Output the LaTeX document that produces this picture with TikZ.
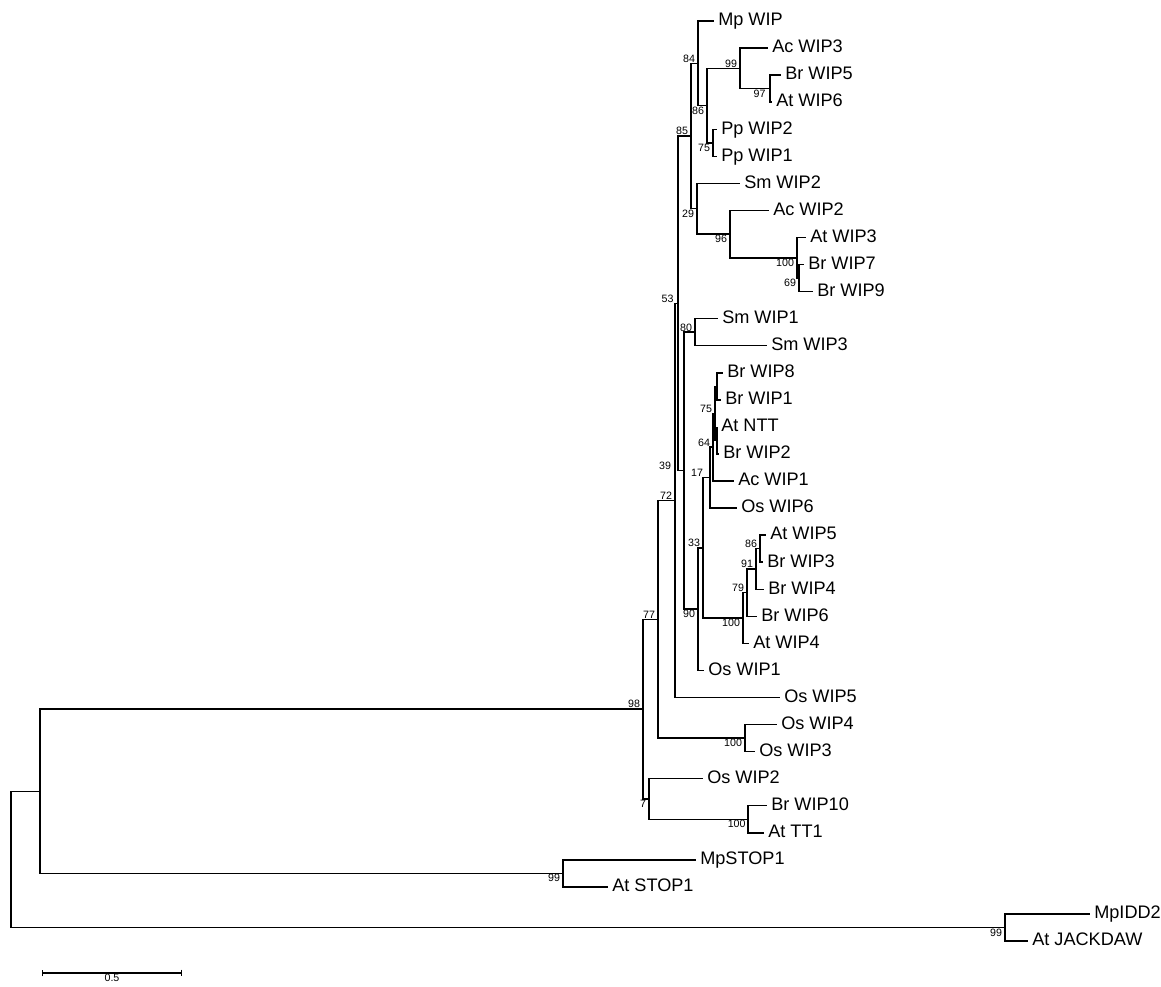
\documentclass[tikz,border=0pt]{standalone}
\usepackage{fontspec}
\setmainfont{Liberation Sans}
\usetikzlibrary{arrows.meta,calc}

\begin{document}
\begin{tikzpicture}[
  x=0.75pt,y=-0.75pt,
  lf/.style={anchor=west,inner sep=3pt,text height=0.72em,text depth=0pt,
    font=\fontsize{13.6}{15}\selectfont},
  bs/.style={inner sep=0.6pt,font=\fontsize{8}{9}\selectfont},
  br/.style={line width=1.1pt}
]
  \useasboundingbox (0,0) rectangle (1161,986);
  % leaves: name / branch end / row / label
  \foreach \n/\x/\i/\t in {mpwip/714/0/Mp WIP, acwip3/768/1/Ac WIP3,
      brwip5/781/2/Br WIP5, atwip6/772/3/At WIP6, ppwip2/717/4/Pp WIP2,
      ppwip1/717/5/Pp WIP1, smwip2/740/6/Sm WIP2, acwip2/769/7/Ac WIP2,
      atwip3/806/8/At WIP3, brwip7/804/9/Br WIP7, brwip9/813/10/Br WIP9,
      smwip1/718/11/Sm WIP1, smwip3/767/12/Sm WIP3, brwip8/723/13/Br WIP8,
      brwip1/721/14/Br WIP1, atntt/717/15/At NTT, brwip2/719/16/Br WIP2,
      acwip1/734/17/Ac WIP1, oswip6/737/18/Os WIP6, atwip5/766/19/At WIP5,
      brwip3/763/20/Br WIP3, brwip4/764/21/Br WIP4, brwip6/757/22/Br WIP6,
      atwip4/749/23/At WIP4, oswip1/704/24/Os WIP1, oswip5/780/25/Os WIP5,
      oswip4/777/26/Os WIP4, oswip3/755/27/Os WIP3, oswip2/703/28/Os WIP2,
      brwip10/767/29/Br WIP10, attt1/764/30/At TT1, mpstop1/696/31/MpSTOP1,
      atstop1/608/32/At STOP1, mpidd2/1090/33/MpIDD2,
      atjackdaw/1028/34/At JACKDAW}
    {\node[lf] (\n) at (\x,{21+27.06*\i}) {\t};}
  % internal nodes
  \foreach \n/\x/\y in {root/11/859.4, nIng/40/791.3, nIDD/1005/927.5,
      nSTOP/563/873.4, n98/643/709.1, n7/649/799.0, nTT/748/819.3,
      n77/658/619.3, nOs43/745/738.1, n72/675/500.4, n53/678/303.3,
      n85/691/136.0, n84/698/63.3, n86/707/105.6, n99/740/68.4,
      nBrAt/770/88.7, nPp/713/142.8, n29/697/208.7, n96/730/234.1,
      n100/797/257.8, n69/799/278.1, n39/684/470.7, n80/695/332.2,
      n90/698/609.1, n33/703/547.8, n17/710/477.7, n64/713/447.2,
      n75/715/413.4, nNa/717/386.3, nNb/717/440.5, n100b/743/618.0,
      n79/747/592.6, n91/756/569.0, n86b/760/548.7}
    {\coordinate (\n) at (\x,\y);}
  \foreach \p/\c in {root/nIng, root/nIDD, nIng/n98, nIng/nSTOP,
      nSTOP/mpstop1.west, nSTOP/atstop1.west, nIDD/mpidd2.west,
      nIDD/atjackdaw.west, n98/n77, n98/n7, n7/oswip2.west, n7/nTT,
      nTT/brwip10.west, nTT/attt1.west, n77/n72, n77/nOs43,
      nOs43/oswip4.west, nOs43/oswip3.west, n72/n53, n72/oswip5.west,
      n53/n85, n53/n39, n85/n84, n85/n29, n84/mpwip.west, n84/n86,
      n86/n99, n86/nPp, n99/acwip3.west, n99/nBrAt, nBrAt/brwip5.west,
      nBrAt/atwip6.west, nPp/ppwip2.west, nPp/ppwip1.west,
      n29/smwip2.west, n29/n96, n96/acwip2.west, n96/n100,
      n100/atwip3.west, n100/n69, n69/brwip7.west, n69/brwip9.west,
      n39/n80, n39/n90, n80/smwip1.west, n80/smwip3.west, n90/n33,
      n90/oswip1.west, n33/n17, n33/n100b, n17/n64, n17/oswip6.west,
      n64/n75, n64/acwip1.west, n75/nNa, n75/nNb, nNa/brwip8.west,
      nNa/brwip1.west, nNb/atntt.west, nNb/brwip2.west, n100b/n79,
      n100b/atwip4.west, n79/n91, n79/brwip6.west, n91/n86b,
      n91/brwip4.west, n86b/atwip5.west, n86b/brwip3.west}
    {\draw[br] (\p) |- (\c);}
  % bootstrap values
  \foreach \n/\v/\a/\s in {n98/98/south east/1.5, n77/77/south east/1.5,
      n72/72/south east/1.5, n53/53/south east/2.5, n85/85/south east/1.5,
      n84/84/south east/1.5, n99/99/south east/1.5, nBrAt/97/north east/2.5,
      n86/86/north east/1.5, nPp/75/north east/1.5, n29/29/north east/1.5,
      n96/96/north east/1.5, n100/100/north east/1.5, n69/69/north east/1.5,
      n80/80/south east/1.5, n39/39/south east/9, n75/75/south east/1.5,
      n64/64/south east/1.5, n17/17/south east/4.5, n33/33/south east/1.5,
      n86b/86/south east/1.5, n91/91/south east/1.5, n79/79/south east/1.5,
      n100b/100/north east/1.5, n90/90/north east/1.5,
      nOs43/100/north east/1.5, n7/7/north east/1.5, nTT/100/north east/1,
      nSTOP/99/north east/1.5, nIDD/99/north east/1.5}
    {\node[bs,anchor=\a,xshift=-\s pt] (bs-\n) at (\n) {\v};}
  % scale
  \coordinate (sbl) at (42,973);
  \coordinate (sbr) at (182,973);
  \draw[br,{Bar[width=5pt]}-{Bar[width=5pt]}] (sbl) -- (sbr);
  \node[bs,anchor=north,inner sep=0.3pt] (sblabel) at ($(sbl)!0.5!(sbr)$) {0.5};
\end{tikzpicture}
\end{document}
